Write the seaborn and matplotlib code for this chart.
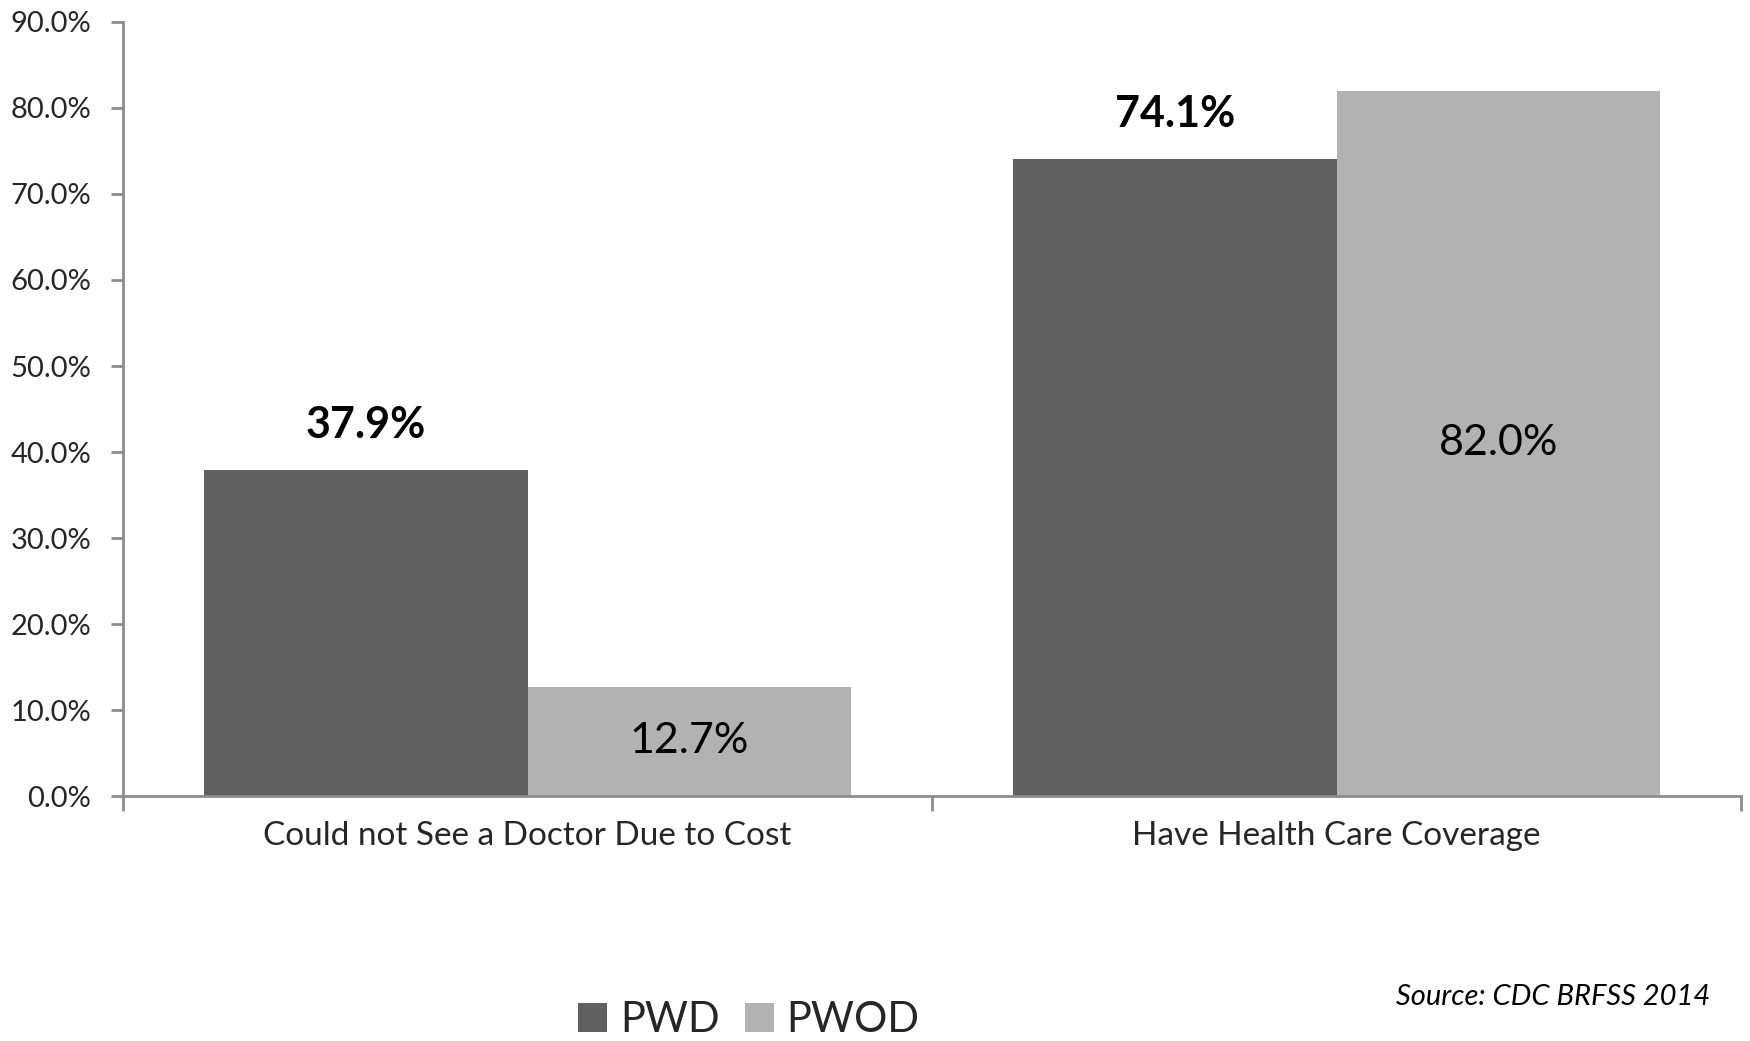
import matplotlib
matplotlib.use("Agg")
import matplotlib.pyplot as plt
import seaborn as sns
import pandas as pd
from matplotlib.ticker import FixedLocator, FuncFormatter
from matplotlib.patches import Patch

categories = ["Could not See a Doctor Due to Cost", "Have Health Care Coverage"]
groups = ["PWD", "PWOD"]
pwd_values = [37.9, 74.1]
pwod_values = [12.7, 82.0]
y_ticks = [0, 10, 20, 30, 40, 50, 60, 70, 80, 90]
source_note = "Source: CDC BRFSS 2014"

colors = {"PWD": "#606060", "PWOD": "#b2b2b2"}

df = pd.DataFrame({
    "category": categories * 2,
    "group": [groups[0]] * len(categories) + [groups[1]] * len(categories),
    "value": pwd_values + pwod_values,
})

sns.set_theme(style="white")
plt.rcParams["font.family"] = ["Lato", "DejaVu Sans"]

fig = plt.figure(figsize=(17.5, 10.41), dpi=100)
ax = fig.add_axes([0.0703, 0.2353, 0.9246, 0.7436])

sns.barplot(data=df, x="category", y="value", hue="group", order=categories,
            hue_order=groups, palette=colors, width=0.8, saturation=1,
            edgecolor="none", linewidth=0, legend=False, ax=ax)

ax.set_xlim(-0.5, 1.5)
ax.set_ylim(0, 90)
ax.set_xlabel("")
ax.set_ylabel("")

# y axis: percentage ticks pointing outward
ax.yaxis.set_major_locator(FixedLocator(y_ticks))
ax.yaxis.set_major_formatter(FuncFormatter(lambda v, p: f"{v:.1f}%"))
ax.tick_params(axis="y", which="major", direction="out", length=9, width=2,
               color="#8c8c8c", labelsize=21, pad=14, left=True)

# x axis: labels at category centres, tick marks at category boundaries
ax.tick_params(axis="x", which="major", length=0, labelsize=24, pad=18)
ax.xaxis.set_minor_locator(FixedLocator([-0.5, 0.5, 1.5]))
ax.tick_params(axis="x", which="minor", direction="out", length=11, width=2,
               color="#8c8c8c", bottom=True)

for side in ("top", "right"):
    ax.spines[side].set_visible(False)
for side in ("left", "bottom"):
    ax.spines[side].set_color("#8c8c8c")
    ax.spines[side].set_linewidth(2)
ax.grid(False)

# value labels
pwd_bars, pwod_bars = ax.containers[0], ax.containers[1]
ax.bar_label(pwd_bars, labels=[f"{v:.1f}%" for v in pwd_values], padding=18,
             fontsize=31, fontweight="bold", color="black")
ax.bar_label(pwod_bars, labels=[f"{v:.1f}%" for v in pwod_values],
             label_type="center", fontsize=31, color="black")

# legend along the bottom edge
handles = [Patch(facecolor=colors[g], edgecolor="none") for g in groups]
fig.legend(handles, groups, loc="lower left", bbox_to_anchor=(0.309, -0.034),
           ncol=2, frameon=False, fontsize=30, handlelength=0.7,
           handleheight=0.7, handletextpad=0.3, columnspacing=0.6)

fig.text(0.977, 0.042, source_note, ha="right", va="center", fontsize=21,
         style="italic", color="black")

fig.savefig("out.png", dpi=100, facecolor="white")
